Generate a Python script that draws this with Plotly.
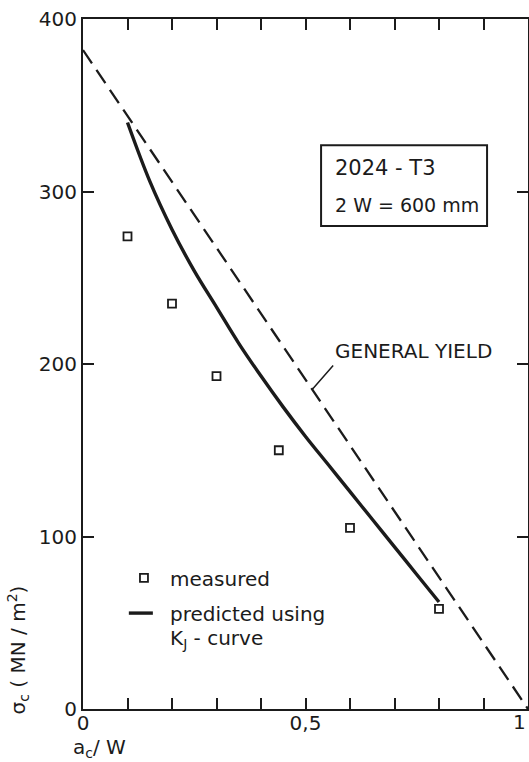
import numpy as np
import plotly.graph_objects as go

# Critical stress for 2024-T3 centre-cracked panels, 2W = 600 mm
meas_x = [0.10, 0.20, 0.30, 0.44, 0.60, 0.80]
meas_y = [274, 235, 193, 150, 105, 58]

# Prediction from the K_J resistance curve
pred_x = [0.10, 0.15, 0.20, 0.25, 0.30, 0.35, 0.40, 0.45, 0.50, 0.55, 0.60, 0.65, 0.70, 0.75, 0.80]
pred_y = [340, 306, 278, 254, 233, 212, 193, 175, 158, 142, 126, 110, 94, 78, 62]

# Net-section general yield line
yield_x = [0.0, 1.0]
yield_y = [382, 0]

x_tickvals = [0.0, 0.1, 0.2, 0.3, 0.4, 0.5, 0.6, 0.7, 0.8, 0.9, 1.0]
x_ticktext = ["0", "", "", "", "", "0,5", "", "", "", "", ""]
x_end_label = "1"
y_tickvals = [0, 100, 200, 300, 400]
y_ticktext = ["0", "100", "200", "300", "400"]

INK = "#1b1b1b"
FONT = "DejaVu Sans"

fig = go.Figure()

fig.add_trace(go.Scatter(
    x=yield_x, y=yield_y, mode="lines",
    line=dict(color=INK, width=2.3, dash="16px,8px"),
    showlegend=False, hoverinfo="skip"))

fig.add_trace(go.Scatter(
    x=pred_x, y=pred_y, mode="lines", line_shape="spline",
    line=dict(color=INK, width=3.4),
    showlegend=False, hoverinfo="skip"))

fig.add_trace(go.Scatter(
    x=meas_x, y=meas_y, mode="markers",
    marker=dict(symbol="square-open", size=8, color=INK, line=dict(width=1.8, color=INK)),
    showlegend=False, hoverinfo="skip"))

axis_common = dict(
    showline=True, linewidth=2, linecolor=INK, mirror="ticks",
    ticks="inside", ticklen=11, tickwidth=2, tickcolor=INK,
    showgrid=False, zeroline=False, fixedrange=True,
    ticklabeloverflow="allow", automargin=False,
    tickfont=dict(family=FONT, size=20, color=INK),
)

fig.update_xaxes(range=[0, 1], tickmode="array", tickvals=x_tickvals,
                 ticktext=x_ticktext, ticklabelstandoff=-5, **axis_common)
fig.update_yaxes(range=[0, 400], tickmode="array", tickvals=y_tickvals,
                 ticktext=y_ticktext, **axis_common)

annotations = []

# Label for the right end of the x axis, kept inside the page
annotations.append(dict(
    text=x_end_label, x=x_tickvals[-1], y=0, xref="x", yref="paper",
    showarrow=False, xanchor="right", yanchor="top", yshift=1,
    font=dict(family=FONT, size=20, color=INK)))

# Axis titles
annotations.append(dict(
    text="σ<sub>c</sub> ( MN / m<sup>2</sup>)", xref="paper", yref="paper",
    x=-0.146, y=0.085, textangle=-90, showarrow=False,
    xanchor="center", yanchor="middle",
    font=dict(family=FONT, size=20, color=INK)))
annotations.append(dict(
    text="a<sub>c</sub>/ W", xref="paper", yref="paper",
    x=-0.026, y=-0.056, showarrow=False, xanchor="left", yanchor="middle",
    font=dict(family=FONT, size=20, color=INK)))

# General yield label with leader to the dashed line
gy_x = 0.515
gy_y = float(np.interp(gy_x, yield_x, yield_y))
annotations.append(dict(
    text="GENERAL YIELD", x=gy_x, y=gy_y, xref="x", yref="y",
    showarrow=True, arrowhead=0, arrowwidth=1.5, arrowcolor=INK,
    ax=21, ay=-24, xanchor="left", yanchor="bottom", standoff=0,
    font=dict(family=FONT, size=20, color=INK)))

# Material / specimen box
annotations.append(dict(
    text="2024 - T3", xref="paper", yref="paper", x=0.562, y=0.784,
    showarrow=False, xanchor="left", yanchor="middle",
    font=dict(family=FONT, size=21, color=INK)))
annotations.append(dict(
    text="2 W = 600 mm", xref="paper", yref="paper", x=0.562, y=0.730,
    showarrow=False, xanchor="left", yanchor="middle",
    font=dict(family=FONT, size=19, color=INK)))

# Key
annotations.append(dict(
    text="measured", xref="paper", yref="paper", x=0.191, y=0.188,
    showarrow=False, xanchor="left", yanchor="middle",
    font=dict(family=FONT, size=20, color=INK)))
annotations.append(dict(
    text="predicted using", xref="paper", yref="paper", x=0.191, y=0.137,
    showarrow=False, xanchor="left", yanchor="middle",
    font=dict(family=FONT, size=20, color=INK)))
annotations.append(dict(
    text="K<sub>J</sub> - curve", xref="paper", yref="paper", x=0.191, y=0.101,
    showarrow=False, xanchor="left", yanchor="middle",
    font=dict(family=FONT, size=20, color=INK)))

shapes = [
    dict(type="rect", xref="paper", yref="paper",
         x0=0.535, x1=0.908, y0=0.700, y1=0.817,
         line=dict(color=INK, width=2), fillcolor="rgba(0,0,0,0)"),
    dict(type="rect", xref="paper", yref="paper",
         xsizemode="pixel", ysizemode="pixel", xanchor=0.137, yanchor=0.190,
         x0=-4, x1=4, y0=-4, y1=4,
         line=dict(color=INK, width=1.8), fillcolor="rgba(0,0,0,0)"),
    dict(type="line", xref="paper", yref="paper",
         x0=0.103, x1=0.157, y0=0.139, y1=0.139,
         line=dict(color=INK, width=3.4)),
]

fig.update_layout(
    width=529, height=762,
    margin=dict(l=83, r=1, t=19, b=53),
    paper_bgcolor="white", plot_bgcolor="white",
    showlegend=False,
    annotations=annotations, shapes=shapes,
    font=dict(family=FONT, size=20, color=INK),
)

fig.write_html("out.html")
